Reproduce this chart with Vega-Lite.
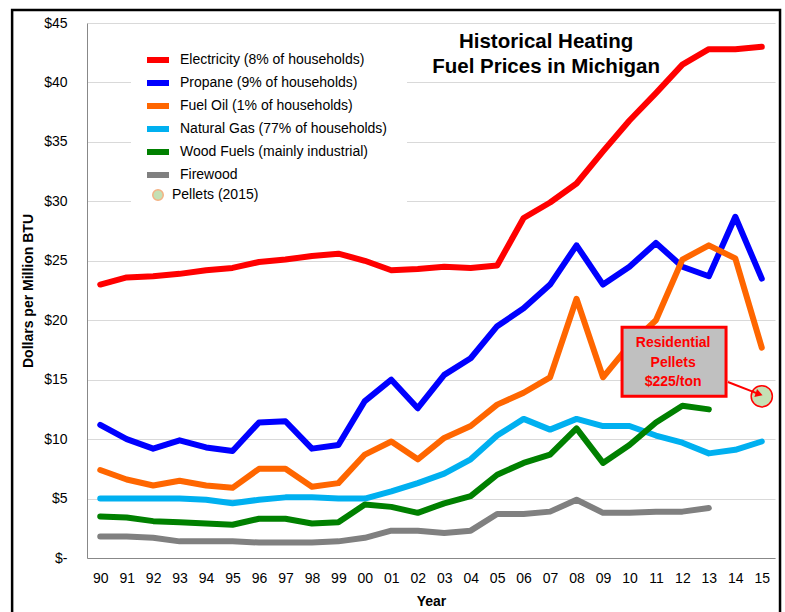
{
  "$schema": "https://vega.github.io/schema/vega-lite/v6.json",
  "width": 688,
  "height": 535,
  "autosize": {"type": "none"},
  "padding": {"left": 87, "top": 23, "right": 10, "bottom": 54},
  "background": "white",
  "config": {"view": {"stroke": null}, "font": "Liberation Sans"},
  "datasets": {
    "prices": [
      {"year": 1990, "elec": 23.0, "propane": 11.2, "oil": 7.4, "gas": 5.0, "wood": 3.5, "fire": 1.8},
      {"year": 1991, "elec": 23.6, "propane": 10.0, "oil": 6.6, "gas": 5.0, "wood": 3.4, "fire": 1.8},
      {"year": 1992, "elec": 23.7, "propane": 9.2, "oil": 6.1, "gas": 5.0, "wood": 3.1, "fire": 1.7},
      {"year": 1993, "elec": 23.9, "propane": 9.9, "oil": 6.5, "gas": 5.0, "wood": 3.0, "fire": 1.4},
      {"year": 1994, "elec": 24.2, "propane": 9.3, "oil": 6.1, "gas": 4.9, "wood": 2.9, "fire": 1.4},
      {"year": 1995, "elec": 24.4, "propane": 9.0, "oil": 5.9, "gas": 4.6, "wood": 2.8, "fire": 1.4},
      {"year": 1996, "elec": 24.9, "propane": 11.4, "oil": 7.5, "gas": 4.9, "wood": 3.3, "fire": 1.3},
      {"year": 1997, "elec": 25.1, "propane": 11.5, "oil": 7.5, "gas": 5.1, "wood": 3.3, "fire": 1.3},
      {"year": 1998, "elec": 25.4, "propane": 9.2, "oil": 6.0, "gas": 5.1, "wood": 2.9, "fire": 1.3},
      {"year": 1999, "elec": 25.6, "propane": 9.5, "oil": 6.3, "gas": 5.0, "wood": 3.0, "fire": 1.4},
      {"year": 2000, "elec": 25.0, "propane": 13.2, "oil": 8.7, "gas": 5.0, "wood": 4.5, "fire": 1.7},
      {"year": 2001, "elec": 24.2, "propane": 15.0, "oil": 9.8, "gas": 5.6, "wood": 4.3, "fire": 2.3},
      {"year": 2002, "elec": 24.3, "propane": 12.6, "oil": 8.3, "gas": 6.3, "wood": 3.8, "fire": 2.3},
      {"year": 2003, "elec": 24.5, "propane": 15.4, "oil": 10.1, "gas": 7.1, "wood": 4.6, "fire": 2.1},
      {"year": 2004, "elec": 24.4, "propane": 16.8, "oil": 11.1, "gas": 8.3, "wood": 5.2, "fire": 2.3},
      {"year": 2005, "elec": 24.6, "propane": 19.5, "oil": 12.9, "gas": 10.3, "wood": 7.0, "fire": 3.7},
      {"year": 2006, "elec": 28.6, "propane": 21.0, "oil": 13.9, "gas": 11.7, "wood": 8.0, "fire": 3.7},
      {"year": 2007, "elec": 29.9, "propane": 23.0, "oil": 15.2, "gas": 10.8, "wood": 8.7, "fire": 3.9},
      {"year": 2008, "elec": 31.5, "propane": 26.3, "oil": 21.8, "gas": 11.7, "wood": 10.9, "fire": 4.9},
      {"year": 2009, "elec": 34.2, "propane": 23.0, "oil": 15.2, "gas": 11.1, "wood": 8.0, "fire": 3.8},
      {"year": 2010, "elec": 36.8, "propane": 24.5, "oil": 17.9, "gas": 11.1, "wood": 9.5, "fire": 3.8},
      {"year": 2011, "elec": 39.1, "propane": 26.5, "oil": 20.0, "gas": 10.3, "wood": 11.4, "fire": 3.9},
      {"year": 2012, "elec": 41.5, "propane": 24.5, "oil": 25.1, "gas": 9.7, "wood": 12.8, "fire": 3.9},
      {"year": 2013, "elec": 42.8, "propane": 23.7, "oil": 26.3, "gas": 8.8, "wood": 12.5, "fire": 4.2},
      {"year": 2014, "elec": 42.8, "propane": 28.7, "oil": 25.2, "gas": 9.1, "wood": null, "fire": null},
      {"year": 2015, "elec": 43.0, "propane": 23.5, "oil": 17.7, "gas": 9.8, "wood": null, "fire": null}
    ],
    "pellets": [{"year": 2015, "price": 13.6}]
  },
  "resolve": {"axis": {"x": "independent", "y": "independent"}},
  "layer": [
    {
      "data": {"name": "prices"},
      "transform": [{"fold": ["elec", "propane", "oil", "gas", "wood", "fire"], "as": ["key", "value"]}],
      "mark": {"type": "line", "strokeCap": "round", "strokeJoin": "round"},
      "encoding": {
        "x": {
          "field": "year", "type": "quantitative",
          "scale": {"domain": [1989.5, 2015.5], "nice": false, "zero": false},
          "axis": {
            "title": "Year", "titleFontSize": 14, "titleFontWeight": "bold", "titleColor": "black",
            "labelFontSize": 14, "labelColor": "black", "format": "d",
            "values": [1990,1991,1992,1993,1994,1995,1996,1997,1998,1999,2000,2001,2002,2003,2004,2005,2006,2007,2008,2009,2010,2011,2012,2013,2014,2015],
            "labelExpr": "substring(datum.label, 2)",
            "grid": false, "ticks": false, "domainColor": "#888888", "labelPadding": 13, "titlePadding": 9,
            "labelFlush": false, "labelOverlap": false
          }
        },
        "y": {
          "field": "value", "type": "quantitative",
          "scale": {"domain": [0, 45], "nice": false},
          "axis": {
            "title": "Dollars per Million BTU", "titleFontSize": 14, "titleFontWeight": "bold", "titleColor": "black",
            "labelFontSize": 14, "labelColor": "black",
            "values": [0, 5, 10, 15, 20, 25, 30, 35, 40, 45],
            "labelExpr": "datum.value == 0 ? '$-' : '$' + datum.value",
            "grid": true, "gridColor": "#d9d9d9", "ticks": false, "domainColor": "#888888",
            "labelPadding": 20, "titlePadding": 8
          }
        },
        "color": {
          "field": "key", "type": "nominal",
          "scale": {
            "domain": ["elec", "propane", "oil", "gas", "wood", "fire", "pellets"],
            "range": ["#ff0000", "#0000ff", "#ff6600", "#00b0f0", "#008000", "#808080", "#f4b183"]
          },
          "legend": {
            "orient": "none", "legendX": 44, "legendY": 10, "title": null, "padding": 20,
            "fillColor": "white", "symbolType": "stroke", "symbolSize": 484, "symbolStrokeWidth": 6,
            "labelFontSize": 14, "labelFont": "Liberation Sans", "labelColor": "black", "labelOffset": 15,
            "rowPadding": -1, "labelLimit": 400,
            "labelExpr": "datum.label == 'elec' ? 'Electricity (8% of households)' : datum.label == 'propane' ? 'Propane (9% of households)' : datum.label == 'oil' ? 'Fuel Oil (1% of households)' : datum.label == 'gas' ? 'Natural Gas (77% of households)' : datum.label == 'wood' ? 'Wood Fuels (mainly industrial)' : datum.label == 'fire' ? 'Firewood' : 'Pellets (2015)'",
            "encode": {
              "symbols": {
                "update": {
                  "shape": {"signal": "datum.value == 'pellets' ? 'circle' : 'stroke'"},
                  "size": {"signal": "datum.value == 'pellets' ? 110 : 484"},
                  "fill": {"signal": "datum.value == 'pellets' ? '#c5e0b4' : 'transparent'"},
                  "strokeWidth": {"signal": "datum.value == 'pellets' ? 1.5 : 6"}
                }
              },
              "labels": {
                "update": {"dx": {"signal": "datum.value == 'pellets' ? -8 : 0"}}
              }
            }
          }
        },
        "strokeWidth": {
          "field": "key", "type": "ordinal",
          "scale": {"domain": ["elec", "propane", "oil", "gas", "wood", "fire"], "range": [6, 6, 6, 5, 8, 6]},
          "legend": null
        }
      }
    },
    {
      "data": {"values": [{}]},
      "mark": {"type": "rect", "fill": null, "fillOpacity": 0, "stroke": "black", "strokeWidth": 2.5},
      "encoding": {
        "x": {"datum": 1986.67, "type": "quantitative", "axis": null},
        "x2": {"datum": 2015.69},
        "y": {"datum": 46.09, "type": "quantitative", "axis": null},
        "y2": {"datum": -6}
      }
    },
    {
      "data": {"name": "pellets"},
      "mark": {"type": "circle", "fill": "#c5e0b4", "stroke": "#ff0000", "strokeWidth": 1.5, "size": 450, "opacity": 1},
      "encoding": {
        "x": {"field": "year", "type": "quantitative", "axis": null},
        "y": {"field": "price", "type": "quantitative", "axis": null}
      }
    },
    {
      "data": {"values": [{}]},
      "mark": {"type": "rect", "fill": "#c0c0c0", "stroke": "#ff0000", "strokeWidth": 3},
      "encoding": {
        "x": {"datum": 2009.72, "type": "quantitative", "axis": null},
        "x2": {"datum": 2013.65},
        "y": {"datum": 19.4, "type": "quantitative", "axis": null},
        "y2": {"datum": 13.6}
      }
    },
    {
      "data": {"values": [{}]},
      "mark": {"type": "text", "text": ["Residential", "Pellets", "$225/ton"], "fontSize": 14, "fontWeight": "bold", "color": "#ff0000", "lineHeight": 19.5, "align": "center", "baseline": "middle"},
      "encoding": {
        "x": {"datum": 2011.65, "type": "quantitative", "axis": null},
        "y": {"datum": 18.08, "type": "quantitative", "axis": null}
      }
    },
    {
      "data": {"values": [{}]},
      "mark": {"type": "rule", "stroke": "#ff0000", "strokeWidth": 2},
      "encoding": {
        "x": {"datum": 2013.72, "type": "quantitative", "axis": null},
        "x2": {"datum": 2014.9},
        "y": {"datum": 14.8, "type": "quantitative", "axis": null},
        "y2": {"datum": 13.78}
      }
    },
    {
      "data": {"values": [{}]},
      "mark": {"type": "point", "shape": "triangle-right", "filled": true, "color": "#ff0000", "size": 70, "angle": 19, "opacity": 1},
      "encoding": {
        "x": {"datum": 2014.9, "type": "quantitative", "axis": null},
        "y": {"datum": 13.78, "type": "quantitative", "axis": null}
      }
    },
    {
      "data": {"values": [{}]},
      "mark": {"type": "text", "text": ["Historical Heating", "Fuel Prices in Michigan"], "fontSize": 20.5, "fontWeight": "bold", "color": "black", "lineHeight": 25, "align": "center", "baseline": "middle"},
      "encoding": {
        "x": {"datum": 2006.85, "type": "quantitative", "axis": null},
        "y": {"datum": 43.4, "type": "quantitative", "axis": null}
      }
    }
  ]
}
